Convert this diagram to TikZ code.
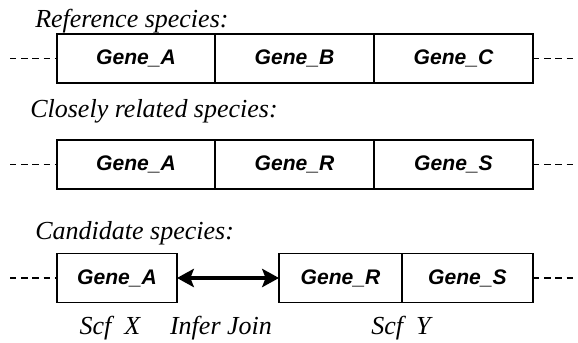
\documentclass[tikz,border=0pt]{standalone}
\usepackage{fontspec}
\setmainfont{Liberation Serif}
\setsansfont{Liberation Sans}
\usetikzlibrary{positioning,arrows.meta}
\tikzset{
    genebox/.style={draw, line width=1pt, minimum height=1.225cm, inner sep=0pt, outer sep=0pt,
        font=\sffamily\bfseries\itshape\fontsize{15}{17}\selectfont},
    title/.style={anchor=base west, inner sep=0pt, font=\itshape\fontsize{18.5}{20}\selectfont},
    label/.style={anchor=base, inner sep=0pt, font=\itshape\fontsize{18.5}{20}\selectfont},
    dots/.style={line width=1.2pt, dash pattern=on 4.6pt off 3.4pt},
    joinarrow/.style={line width=2.6pt, >={Stealth[length=12pt,width=13pt,inset=2.5pt]}, <->},
}

\begin{document}
\begin{tikzpicture}
    \useasboundingbox (0,0) rectangle (14.45,8.575);
    % reference species
    \node[title] (tref) at (0.875, 7.875) {Reference species:};
    \node[genebox, minimum width=3.95cm] (refA) at (3.4, 7.1125) {Gene\_A};
    \node[genebox, minimum width=3.975cm, right=0pt of refA] (refB) {Gene\_B};
    \node[genebox, minimum width=3.975cm, right=0pt of refB] (refC) {Gene\_C};
    \coordinate (refL) at (0.25, 7.1125);
    \coordinate (refR) at (14.425, 7.1125);
    \draw[dots] (refL) -- (refA.west);
    \draw[dots] (refC.east) -- (refR);

    % closely related species
    \node[title] (trel) at (0.75, 5.625) {Closely related species:};
    \node[genebox, minimum width=3.95cm] (relA) at (3.4, 4.4625) {Gene\_A};
    \node[genebox, minimum width=3.975cm, right=0pt of relA] (relR) {Gene\_R};
    \node[genebox, minimum width=3.975cm, right=0pt of relR] (relS) {Gene\_S};
    \coordinate (relL) at (0.25, 4.4625);
    \coordinate (relE) at (14.425, 4.4625);
    \draw[dots] (relL) -- (relA.west);
    \draw[dots] (relS.east) -- (relE);

    % candidate species
    \node[title] (tcand) at (0.875, 2.575) {Candidate species:};
    \node[genebox, minimum width=3.0cm] (candA) at (2.925, 1.625) {Gene\_A};
    \node[genebox, minimum width=3.075cm] (candR) at (8.5125, 1.625) {Gene\_R};
    \node[genebox, minimum width=3.275cm, right=0pt of candR] (candS) {Gene\_S};
    \coordinate (candL) at (0.25, 1.625);
    \coordinate (candE) at (14.425, 1.625);
    \draw[dots] (candL) -- (candA.west);
    \draw[dots] (candS.east) -- (candE);
    \draw[joinarrow] (candA.east) -- (candR.west);

    \node[label] (scfx) at (2.75, 0.2) {Scf\ \ X};
    \node[label] (ijoin) at (5.525, 0.2) {Infer Join};
    \node[label] (scfy) at (10.025, 0.2) {Scf\ \ Y};
\end{tikzpicture}
\end{document}
